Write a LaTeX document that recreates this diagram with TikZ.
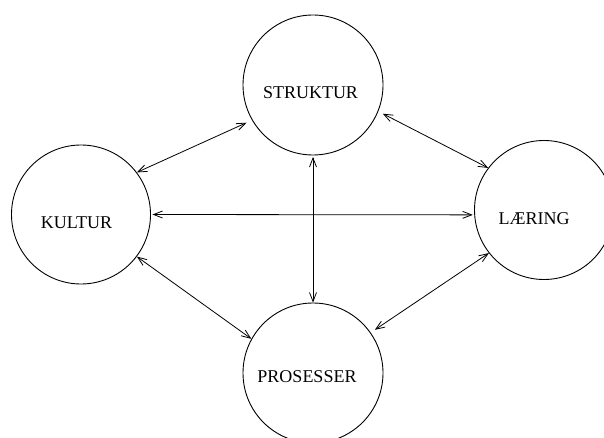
\documentclass[tikz,border=0pt]{standalone}
\usepackage{fontspec}
\setmainfont{Liberation Serif}
\usetikzlibrary{arrows.meta}
\begin{document}
\begin{tikzpicture}[x=1pt,y=-1pt,
  topic/.style={circle,draw,line width=0.9pt,minimum size=139pt,inner sep=0pt},
  word/.style={font=\fontsize{18}{21}\selectfont},
  link/.style={line width=0.8pt,
    {Straight Barb[length=9pt,width=7pt]}-{Straight Barb[length=9pt,width=7pt]}}]
  \useasboundingbox (0,0) rectangle (604,438);
  \fill[white] (0,0) rectangle (604,438);
  \clip (0,0) rectangle (604,438);

  % the four topics
  \node[topic,minimum size=140pt,
    label={[word,shift={(-2.5,8)}]center:STRUKTUR}] (struktur) at (313,85) {};
  \node[topic,
    label={[word,shift={(-4.5,8.5)}]center:KULTUR}] (kultur) at (81,214.5) {};
  \node[topic,
    label={[word,shift={(-10,9)}]center:LÆRING}] (laering) at (544,210) {};
  \node[topic,minimum size=140pt,
    label={[word,shift={(-6,4)}]center:PROSESSER}] (prosesser) at (313,373) {};

  % two-way relations
  \draw[link,shorten >=6pt] (kultur.37) -- (struktur.210);
  \draw[link,shorten <=5pt] (struktur.-22) -- (laering.143);
  \draw[link] (kultur.-37) -- (prosesser.151);
  \draw[link,shorten >=5pt] (laering.218) -- (prosesser.35);
  \draw[link,shorten <=1.5pt,shorten >=1.5pt] (kultur.0) -- (laering.184);
  \draw[link,shorten <=1.5pt] (struktur.-90) -- (prosesser.90);
\end{tikzpicture}
\end{document}
